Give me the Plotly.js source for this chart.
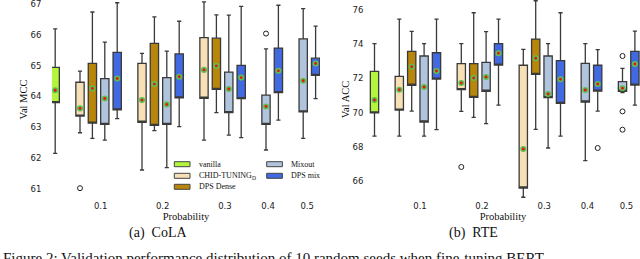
<!DOCTYPE html>
<html><head><meta charset="utf-8">
<script src="https://cdn.plot.ly/plotly-3.0.1.min.js"></script>
<style>html,body{margin:0;padding:0;background:#fff;overflow:hidden}#chart{width:640px;height:259px}</style>
</head><body><div id="chart"></div>
<script>
// ---------- data ----------
const probLabels = ['0.1', '0.2', '0.3', '0.4', '0.5'];
const methods = ['vanilla', 'CHID-TUNING<sub>D</sub>', 'DPS Dense', 'Mixout', 'DPS mix'];
const methodProbs = [[''], ['0.1', '0.2', '0.3'], ['0.1', '0.2', '0.3'], probLabels, probLabels];

// rows: [lower whisker, Q1, Q3, upper whisker, mean], one row per probability
const colaVanilla = [[62.15, 63.80, 64.94, 66.19, 64.20]];
const colaChid = [[62.82, 63.36, 64.46, 64.82, 63.61], [61.61, 63.16, 65.07, 65.40, 63.88], [62.58, 63.94, 65.91, 67.07, 64.86]];
const colaDense = [[62.64, 63.13, 65.07, 66.74, 64.26], [62.89, 63.06, 65.72, 66.58, 64.40], [63.47, 64.23, 65.89, 66.65, 64.99]];
const colaMixout = [[62.58, 63.09, 64.58, 65.76, 63.93], [61.69, 63.09, 64.61, 65.47, 63.74], [62.74, 63.47, 64.79, 66.64, 64.24], [62.26, 63.09, 64.04, 65.54, 63.67], [62.64, 63.50, 65.87, 66.85, 64.51]];
const colaDpsMix = [[63.28, 63.56, 65.43, 67.04, 64.58], [63.02, 63.95, 65.38, 66.44, 64.64], [62.66, 63.93, 65.01, 66.92, 64.61], [63.23, 64.12, 65.57, 66.96, 64.83], [63.93, 64.68, 65.24, 66.28, 65.07]];
const colaOutMethod = [1, 3];
const colaOutProb = ['0.1', '0.4'];
const colaOutValue = [61.02, 66.04];

const rteVanilla = [[68.63, 69.98, 72.41, 74.03, 70.74]];
const rteChid = [[68.63, 70.15, 72.12, 75.47, 71.34], [70.07, 71.34, 72.86, 74.03, 71.73], [65.05, 65.59, 72.77, 73.70, 67.87]];
const rteDense = [[70.09, 71.60, 73.58, 74.75, 72.68], [69.72, 70.89, 72.86, 75.84, 72.02], [69.02, 72.24, 74.30, 76.54, 73.18]];
const rteMixout = [[68.63, 69.45, 73.31, 74.03, 71.50], [69.35, 71.25, 72.94, 74.73, 72.08], [67.93, 70.87, 73.31, 74.03, 71.09], [67.19, 70.62, 72.88, 74.03, 71.32], [71.17, 71.25, 71.81, 72.59, 71.42]];
const rteDpsMix = [[69.00, 71.96, 73.50, 75.47, 72.43], [70.44, 72.78, 74.03, 75.47, 73.47], [68.63, 70.54, 73.04, 75.84, 71.95], [70.09, 71.26, 72.77, 73.68, 71.67], [70.44, 71.61, 73.58, 74.77, 72.84]];
const rteOutMethod = [1, 3, 3, 3, 4];
const rteOutProb = ['0.2', '0.5', '0.5', '0.5', '0.4'];
const rteOutValue = [66.82, 73.31, 70.07, 69.00, 67.93];

const colaTicks = [61, 62, 63, 64, 65, 66, 67];
const rteTicks = [66, 68, 70, 72, 74, 76];

// ---------- styles ----------
const fills = ['#b2f53c', '#f7e0b6', '#b8860b', '#b0c4de', '#4169e1'];
const edge = '#3a3a3a';
const W = 640, H = 259;
const px = p => p / W, py = p => 1 - p / H;

// slot layout: vanilla alone, then one group per probability with a gap
const slotMap = {};
let s = 0;
slotMap['0|'] = s; s += 2;
probLabels.forEach(p => {
  methods.forEach((m, i) => { if (i > 0 && methodProbs[i].includes(p)) { slotMap[i + '|' + p] = s; s++; } });
  s++;
});
const tickPos = [3.67, 8.67, 13.69, 17.17, 20.32];

const traces = [];
function panel(data, outM, outP, outV, xa, ya) {
  const mx = [], my = [];
  data.forEach((rows, i) => {
    const xs = methodProbs[i].map(p => slotMap[i + '|' + p]);
    traces.push({
      type: 'box', x: xs, xaxis: xa, yaxis: ya,
      lowerfence: rows.map(r => r[0]), q1: rows.map(r => r[1]), median: rows.map(r => r[1]),
      q3: rows.map(r => r[2]), upperfence: rows.map(r => r[3]),
      boxpoints: false, width: 0.67, whiskerwidth: 0.5,
      fillcolor: fills[i], line: { color: edge, width: 1.3 },
      showlegend: false, hoverinfo: 'skip', name: methods[i]
    });
    xs.forEach((x, k) => { mx.push(x); my.push(rows[k][4]); });
  });
  traces.push({
    type: 'scatter', mode: 'markers', x: mx, y: my, xaxis: xa, yaxis: ya,
    marker: { size: 4.5, color: '#e8141b', line: { color: '#5cc24c', width: 1.6 } },
    showlegend: false, hoverinfo: 'skip'
  });
  traces.push({
    type: 'scatter', mode: 'markers', xaxis: xa, yaxis: ya,
    x: outM.map((m, k) => slotMap[m + '|' + outP[k]]), y: outV,
    marker: { symbol: 'circle-open', size: 5, color: '#222', line: { width: 1 } },
    showlegend: false, hoverinfo: 'skip'
  });
}
panel([colaVanilla, colaChid, colaDense, colaMixout, colaDpsMix], colaOutMethod, colaOutProb, colaOutValue, 'x', 'y');
panel([rteVanilla, rteChid, rteDense, rteMixout, rteDpsMix], rteOutMethod, rteOutProb, rteOutValue, 'x2', 'y2');

const tickFont = { family: 'DejaVu Sans', size: 8.5, color: '#222' };
const titleFont = { family: 'Liberation Serif', size: 10.5, color: '#111' };
const plotBottom = 199;
function xAxis(d0, d1, origin, anchor) {
  return {
    domain: [px(d0), px(d1)], range: [(d0 - origin) / 12.4, (d1 - origin) / 12.4], anchor: anchor,
    tickvals: tickPos, ticktext: probLabels, showgrid: false, zeroline: false, showline: false,
    ticks: '', tickfont: tickFont, ticklabeloverflow: 'allow',
    title: { text: 'Probability', font: titleFont, standoff: 3 }
  };
}
function yAxis(lo, hi, ticks, anchor, title, tl) {
  return {
    domain: [py(plotBottom), 1], range: [lo, hi], anchor: anchor, tickvals: ticks,
    showgrid: false, zeroline: false, showline: false, ticklabeloverflow: 'allow',
    ticks: 'outside', ticklen: tl, tickcolor: 'rgba(0,0,0,0)', tickfont: tickFont,
    title: { text: title, font: titleFont, standoff: 0 }
  };
}

const annotations = [
  { text: '(a)\u00a0\u00a0CoLA', x: px(158), y: py(233), xanchor: 'center', yanchor: 'middle' },
  { text: '(b)\u00a0\u00a0RTE', x: px(473), y: py(233), xanchor: 'center', yanchor: 'middle' },
].map(a => Object.assign(a, { xref: 'paper', yref: 'paper', showarrow: false, font: { family: 'Liberation Serif', size: 14, color: '#111' } }));
annotations.push({
  text: 'Figure 2: Validation performance distribution of 10 random seeds when fine-tuning BERT',
  x: px(1), y: py(248), xanchor: 'left', yanchor: 'top', xref: 'paper', yref: 'paper', showarrow: false,
  font: { family: 'Liberation Serif', size: 15, color: '#111' }
});

// legend (two columns)
const legendSpots = [[174.3, 164.2], [174.3, 175.8], [174.3, 186.8], [266.7, 164.2], [266.7, 175.8]];
const shapes = [];
methods.forEach((m, i) => {
  const [lx, ly] = legendSpots[i];
  shapes.push({ type: 'rect', xref: 'paper', yref: 'paper', x0: px(lx), x1: px(lx + 15.7), y0: py(ly - 2.5), y1: py(ly + 2.5),
    fillcolor: fills[i], line: { color: '#444', width: 1 } });
  annotations.push({ text: m, x: px(lx + 22.4), y: py(ly), xanchor: 'left', yanchor: 'middle', xref: 'paper', yref: 'paper',
    showarrow: false, font: { family: 'Liberation Serif', size: 8, color: '#111' } });
});

const layout = {
  width: W, height: H, margin: { l: 0, r: 0, t: 0, b: 0 },
  paper_bgcolor: '#fff', plot_bgcolor: '#fff', showlegend: false, boxmode: 'overlay',
  xaxis: xAxis(52, 320, 55.2, 'y'),
  yaxis: yAxis(67 - (plotBottom - 4) / 30.8, 67 + 4 / 30.8, colaTicks, 'x', 'Val MCC', 8),
  xaxis2: xAxis(366, 640, 374.5, 'y2'),
  yaxis2: yAxis(76 - (plotBottom - 10) / 17.1, 76 + 10 / 17.1, rteTicks, 'x2', 'Val ACC', 0),
  annotations: annotations, shapes: shapes
};
Plotly.newPlot('chart', traces, layout, { staticPlot: true, displayModeBar: false });
</script></body></html>
